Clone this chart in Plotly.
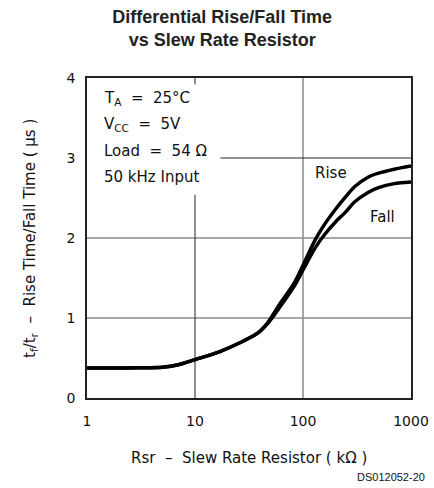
import plotly.graph_objects as go

# Data
rsr_kohm = [1, 2, 3, 5, 7, 10, 17, 26, 38, 47, 62, 83, 100, 130, 160, 200, 250, 300, 400, 500, 700, 1000]
rise_us = [0.375, 0.375, 0.377, 0.385, 0.415, 0.48, 0.58, 0.69, 0.81, 0.94, 1.19, 1.44, 1.66, 1.98, 2.18, 2.36, 2.52, 2.64, 2.76, 2.81, 2.86, 2.90]
fall_us = [0.375, 0.375, 0.377, 0.385, 0.415, 0.48, 0.58, 0.69, 0.81, 0.93, 1.15, 1.40, 1.60, 1.88, 2.05, 2.20, 2.33, 2.45, 2.57, 2.63, 2.68, 2.70]

x_tick_vals = [1, 10, 100, 1000]
x_tick_text = ["1", "10", "100", "1000"]
y_tick_vals = [0, 1, 2, 3, 4]

conditions = ["T<sub>A</sub>  =  25°C", "V<sub>CC</sub>  =  5V", "Load  =  54 Ω", "50 kHz Input"]

FONT = "DejaVu Sans"

fig = go.Figure()

# gridlines (partial, as in the reference)
grid_grey = "#8a8a8a"
fig.add_trace(go.Scatter(x=[100, 100], y=[0, 4], mode="lines", line=dict(color=grid_grey, width=1.5), hoverinfo="skip", showlegend=False))
fig.add_trace(go.Scatter(x=[1, 1000], y=[1, 1], mode="lines", line=dict(color=grid_grey, width=1.5), hoverinfo="skip", showlegend=False))
fig.add_trace(go.Scatter(x=[1, 1000], y=[2, 2], mode="lines", line=dict(color=grid_grey, width=1.5), hoverinfo="skip", showlegend=False))
fig.add_trace(go.Scatter(x=[17.2, 1000], y=[3, 3], mode="lines", line=dict(color="#222", width=1), hoverinfo="skip", showlegend=False))
fig.add_trace(go.Scatter(x=[10, 10], y=[0, 2.54], mode="lines", line=dict(color="#222", width=1), hoverinfo="skip", showlegend=False))
fig.add_trace(go.Scatter(x=[10, 10], y=[3.92, 4], mode="lines", line=dict(color="#222", width=1), hoverinfo="skip", showlegend=False))

fig.add_trace(go.Scatter(x=rsr_kohm, y=fall_us, mode="lines", line=dict(color="black", width=3.5, shape="spline", smoothing=0.8), name="Fall", showlegend=False))
fig.add_trace(go.Scatter(x=rsr_kohm, y=rise_us, mode="lines", line=dict(color="black", width=3.5, shape="spline", smoothing=0.8), name="Rise", showlegend=False))

annotations = []
for i, t in enumerate(conditions):
    annotations.append(dict(xref="paper", yref="paper", x=(102 - 87) / 323.7, y=(398 - (98 + i * 26.3)) / 320,
                            text=t, showarrow=False, xanchor="left", yanchor="middle",
                            font=dict(family=FONT, size=15, color="#111")))
annotations.append(dict(x=2.256, y=2.81, xref="x", yref="y", text="Rise", showarrow=False,
                        font=dict(family=FONT, size=15, color="#111")))
annotations.append(dict(x=2.74, y=2.26, xref="x", yref="y", text="Fall", showarrow=False,
                        font=dict(family=FONT, size=15, color="#111")))
annotations.append(dict(xref="paper", yref="paper", x=(427 - 87) / 323.7, y=(398 - 477) / 320,
                        text="DS012052-20", showarrow=False, xanchor="right", yanchor="middle",
                        font=dict(family="Liberation Sans", size=11, color="#111")))
annotations.append(dict(xref="paper", yref="paper", x=(249 - 87) / 323.7, y=(398 - 458) / 320,
                        text="Rsr  –  Slew Rate Resistor ( kΩ )", showarrow=False, xanchor="center", yanchor="middle",
                        font=dict(family=FONT, size=15, color="#111")))
annotations.append(dict(xref="paper", yref="paper", x=(30 - 87) / 323.7, y=(398 - 238) / 320,
                        text="t<sub>f</sub>/t<sub>r</sub>  –  Rise Time/Fall Time ( μs )", showarrow=False, textangle=-90,
                        xanchor="center", yanchor="middle",
                        font=dict(family=FONT, size=15, color="#111")))

fig.update_layout(
    width=434, height=488,
    margin=dict(l=87, r=23, t=78, b=90, autoexpand=False),
    paper_bgcolor="white", plot_bgcolor="white",
    title=dict(text="<b>Differential Rise/Fall Time<br>vs Slew Rate Resistor</b>", x=0.512, xanchor="center",
               y=0.953, yanchor="top", font=dict(family="Liberation Sans", size=18, color="#222")),
    annotations=annotations,
    xaxis=dict(type="log", range=[0, 3], tickvals=x_tick_vals, ticktext=x_tick_text, showgrid=False,
               zeroline=False, showline=True, mirror=True, linecolor="#222", linewidth=1.5, ticks="",
               ticklabelstandoff=9, automargin=False, tickfont=dict(family=FONT, size=14, color="#111")),
    yaxis=dict(range=[0, 4], tickvals=y_tick_vals, showgrid=False, zeroline=False, showline=True, mirror=True,
               linecolor="#222", linewidth=1.5, ticks="", ticklen=0, automargin=False, ticklabelstandoff=7,
               tickfont=dict(family=FONT, size=14, color="#111")),
)

fig.write_html("out.html", config={"displayModeBar": False},
               post_script="document.body.style.margin='0';document.body.style.overflow='hidden';")
